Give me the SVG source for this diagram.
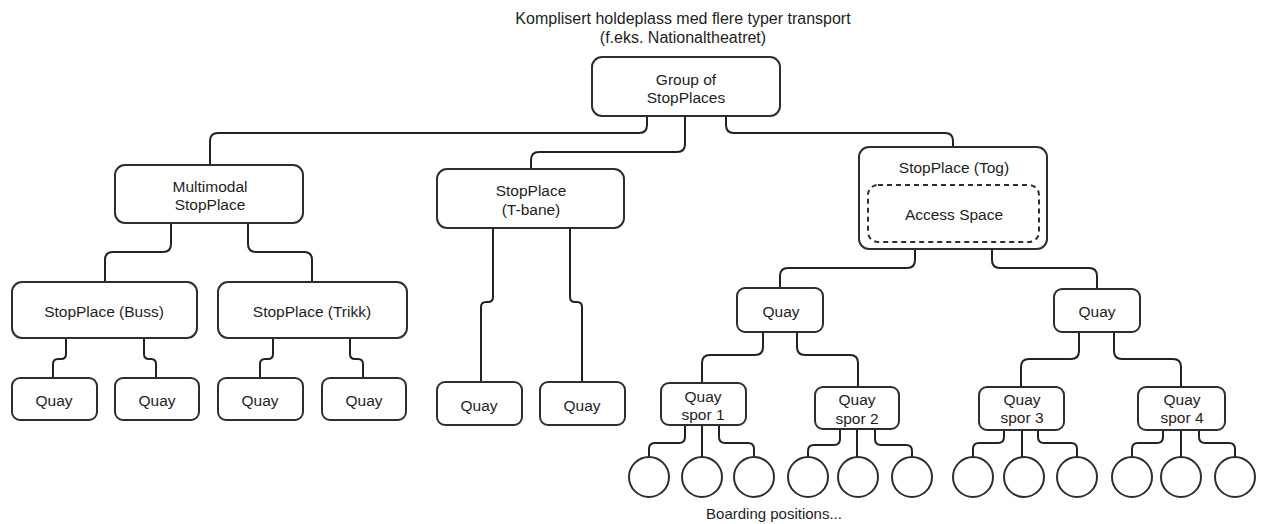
<svg xmlns="http://www.w3.org/2000/svg" width="1265" height="524" viewBox="0 0 1265 524">
<style>
.box{fill:#fff;stroke:#2e2e2e;stroke-width:2}
.dash{fill:none;stroke:#2e2e2e;stroke-width:2;stroke-dasharray:5 4}
.c{fill:none;stroke:#222;stroke-width:2;stroke-linejoin:round}
text{font-family:"Liberation Sans",Arial,sans-serif;font-size:15.5px;fill:#1e1e1e;text-anchor:middle;dominant-baseline:central}
.t{font-size:16px}
.s{font-size:15px}
</style>
<rect width="1265" height="524" fill="#fff"/>
<g id="title">
<text class="t" x="683" y="18">Komplisert holdeplass med flere typer transport</text>
<text class="t" x="683" y="37">(f.eks. Nationaltheatret)</text>
</g>
<g id="connectors">
<path class="c" d="M647,117 V125 Q647,133 639,133 H218 Q210,133 210,141 V165"/>
<path class="c" d="M685,117 V144 Q685,152 677,152 H539 Q531,152 531,160 V169"/>
<path class="c" d="M726,117 V125 Q726,133 734,133 H945 Q953,133 953,141 V147"/>
<path class="c" d="M171,223 V244 Q171,252 163,252 H113 Q105,252 105,260 V282"/>
<path class="c" d="M248,223 V244 Q248,252 256,252 H304 Q312,252 312,260 V282"/>
<path class="c" d="M66,338 V354 Q66,359 61,359 H58 Q53,359 53,364 V378"/>
<path class="c" d="M144,338 V354 Q144,359 149,359 H151 Q156,359 156,364 V378"/>
<path class="c" d="M273,338 V354 Q273,359 268,359 H265 Q260,359 260,364 V378"/>
<path class="c" d="M350,338 V354 Q350,359 355,359 H358 Q363,359 363,364 V378"/>
<path class="c" d="M493,228 V297 Q493,302 488,302 H486 Q481,302 481,307 V382"/>
<path class="c" d="M570,228 V297 Q570,302 575,302 H577 Q582,302 582,307 V382"/>
<path class="c" d="M915,249 V260 Q915,268 907,268 H788 Q780,268 780,276 V288"/>
<path class="c" d="M992,249 V260 Q992,268 1000,268 H1089 Q1097,268 1097,276 V289"/>
<path class="c" d="M763,332 V347 Q763,355 755,355 H710 Q702,355 702,363 V383"/>
<path class="c" d="M797,332 V347 Q797,355 805,355 H850 Q858,355 858,363 V387"/>
<path class="c" d="M1079,332 V351 Q1079,359 1071,359 H1029 Q1021,359 1021,367 V387"/>
<path class="c" d="M1114,332 V351 Q1114,359 1122,359 H1173 Q1181,359 1181,367 V387"/>
<path class="c" d="M685,425 V437 Q685,443 679,443 H655 Q649,443 649,449 V457"/>
<path class="c" d="M702,425 V457"/>
<path class="c" d="M719,425 V437 Q719,443 725,443 H748 Q754,443 754,449 V457"/>
<path class="c" d="M840,429 V439 Q840,445 834,445 H814 Q808,445 808,451 V457"/>
<path class="c" d="M857,429 V457"/>
<path class="c" d="M875,429 V439 Q875,445 881,445 H906 Q912,445 912,451 V457"/>
<path class="c" d="M1004,430 V437 Q1004,443 998,443 H979 Q973,443 973,449 V457"/>
<path class="c" d="M1022,430 V457"/>
<path class="c" d="M1038,430 V437 Q1038,443 1044,443 H1071 Q1077,443 1077,449 V457"/>
<path class="c" d="M1163,430 V437 Q1163,443 1157,443 H1138 Q1132,443 1132,449 V457"/>
<path class="c" d="M1181,430 V457"/>
<path class="c" d="M1199,430 V437 Q1199,443 1205,443 H1229 Q1235,443 1235,449 V457"/>
</g>
<g id="group-of-stopplaces"><rect class="box" x="592" y="57" width="188" height="59" rx="10"/><text x="686" y="79">Group of</text><text x="686" y="97">StopPlaces</text></g>
<g id="multimodal"><rect class="box" x="115" y="165" width="188" height="58" rx="10"/><text x="210" y="186">Multimodal</text><text x="210" y="204">StopPlace</text></g>
<g id="tbane"><rect class="box" x="437" y="169" width="187" height="59" rx="10"/><text x="531" y="190">StopPlace</text><text x="531" y="209">(T-bane)</text></g>
<g id="tog"><rect class="box" x="859" y="147" width="188" height="102" rx="10"/><text x="954" y="167">StopPlace (Tog)</text><rect class="dash" x="868" y="185" width="171" height="57" rx="10"/><text x="954" y="214">Access Space</text></g>
<g id="buss"><rect class="box" x="12" y="282" width="185" height="56" rx="10"/><text x="104" y="311">StopPlace (Buss)</text></g>
<g id="trikk"><rect class="box" x="218" y="282" width="189" height="56" rx="10"/><text x="312" y="311">StopPlace (Trikk)</text></g>
<g id="quay-b1"><rect class="box" x="12" y="378" width="85" height="42" rx="8"/><text x="54" y="400">Quay</text></g>
<g id="quay-b2"><rect class="box" x="115" y="378" width="84" height="42" rx="8"/><text x="157" y="400">Quay</text></g>
<g id="quay-t1"><rect class="box" x="218" y="378" width="85" height="42" rx="8"/><text x="260" y="400">Quay</text></g>
<g id="quay-t2"><rect class="box" x="322" y="378" width="84" height="42" rx="8"/><text x="364" y="400">Quay</text></g>
<g id="quay-m1"><rect class="box" x="437" y="382" width="85" height="43" rx="8"/><text x="479" y="405">Quay</text></g>
<g id="quay-m2"><rect class="box" x="540" y="382" width="85" height="43" rx="8"/><text x="582" y="405">Quay</text></g>
<g id="quay-tog1"><rect class="box" x="737" y="288" width="86" height="44" rx="8"/><text x="781" y="311">Quay</text></g>
<g id="quay-tog2"><rect class="box" x="1054" y="289" width="86" height="43" rx="8"/><text x="1097" y="311">Quay</text></g>
<g id="spor1"><rect class="box" x="661" y="383" width="85" height="42" rx="8"/><text x="703" y="396">Quay</text><text x="703" y="414">spor 1</text></g>
<g id="spor2"><rect class="box" x="815" y="387" width="84" height="42" rx="8"/><text x="857" y="399">Quay</text><text x="857" y="418">spor 2</text></g>
<g id="spor3"><rect class="box" x="979" y="387" width="85" height="43" rx="8"/><text x="1022" y="399">Quay</text><text x="1022" y="417">spor 3</text></g>
<g id="spor4"><rect class="box" x="1138" y="387" width="87" height="43" rx="8"/><text x="1182" y="399">Quay</text><text x="1182" y="417">spor 4</text></g>
<g id="boarding-positions">
<circle class="box" cx="649" cy="477" r="20"/>
<circle class="box" cx="702" cy="477" r="20"/>
<circle class="box" cx="754" cy="477" r="20"/>
<circle class="box" cx="808" cy="477" r="20"/>
<circle class="box" cx="858" cy="477" r="20"/>
<circle class="box" cx="912" cy="477" r="20"/>
<circle class="box" cx="973" cy="477" r="20"/>
<circle class="box" cx="1024" cy="477" r="20"/>
<circle class="box" cx="1077" cy="477" r="20"/>
<circle class="box" cx="1132" cy="477" r="20"/>
<circle class="box" cx="1181" cy="477" r="20"/>
<circle class="box" cx="1235" cy="477" r="20"/>
</g>
<g id="caption"><text class="s" x="774" y="513">Boarding positions...</text></g>
</svg>
